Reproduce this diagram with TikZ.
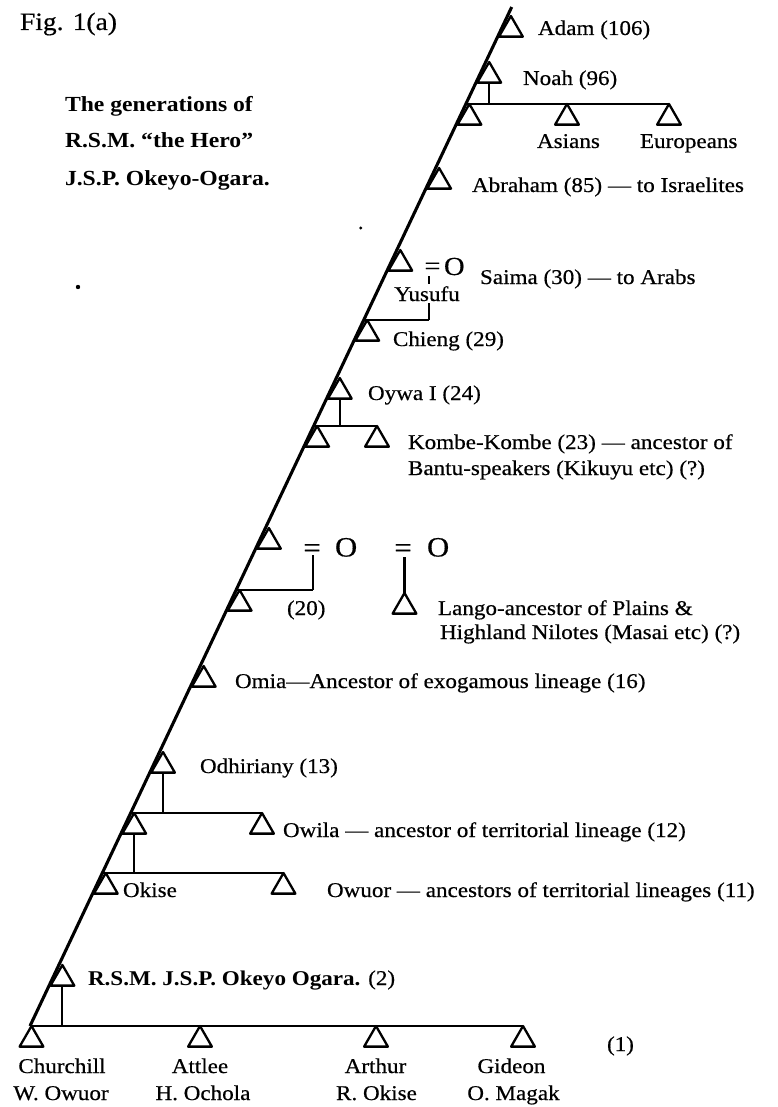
\documentclass[tikz,border=0pt]{standalone}
\usepackage{fontspec}
\setmainfont{Liberation Serif}[FakeStretch=1.1, UprightFeatures={FakeBold=0.5}]
\usetikzlibrary{shapes.geometric}
\begin{document}
\begin{tikzpicture}[x=1pt,y=-1pt,
  every node/.style={inner sep=0pt, outer sep=0pt},
  tri/.style={regular polygon, regular polygon sides=3, draw, line width=2.3pt,
    line join=round, minimum size=27.5pt, anchor=corner 1},
  lbl/.style={anchor=base west, font=\fontsize{21}{25}\selectfont},
  pname/.style={anchor=base, font=\fontsize{21}{25}\selectfont},
  ttl/.style={anchor=base west, font=\fontsize{21.5}{25}\selectfont\bfseries},
  trunk/.style={line width=3.1pt},
  hbar/.style={line width=2.7pt},
  vline/.style={line width=2.1pt},
  symS/.style={font=\fontsize{26}{28}\selectfont},
  symB/.style={font=\fontsize{28}{30}\selectfont},
]
\useasboundingbox (0,0) rectangle (778,1107);

% ---- titles
\node[anchor=base west, font=\fontsize{25}{28}\selectfont] (fig) at (20,30) {Fig. 1(a)};
\node[ttl] (t1) at (65,111.5) {The generations of};
\node[ttl] (t2) at (65,148) {R.S.M. “the Hero”};
\node[ttl] (t3) at (65,186) {J.S.P. Okeyo-Ogara.};
\fill (360.7,228) circle (1.7pt);
\fill (78,287) circle (2.2pt);

% ---- main line
\coordinate (top) at (511.7,7);
\coordinate (bot) at (30,1026);
\draw[trunk] (top) -- (bot);

% points on the main line
\coordinate (l104) at (465.9,104);
\coordinate (l320) at (363.7,320);
\coordinate (l426) at (313.6,426);
\coordinate (l590) at (236.1,590);
\coordinate (l813) at (130.7,813);
\coordinate (l873) at (102.3,873);

% ---- triangles
\node[tri] (adam) at (510.9,16) {};
\node[tri] (noah) at (489.2,62) {};
\node[tri] (ham) at (469.4,104) {};
\node[tri] (asians) at (567,104) {};
\node[tri] (europeans) at (669,104) {};
\node[tri] (abraham) at (439.1,168) {};
\node[tri] (yusufu) at (400.3,250) {};
\node[tri] (chieng) at (367.2,320) {};
\node[tri] (oywa) at (339.8,378) {};
\node[tri] (kson) at (317.1,426) {};
\node[tri] (kombe) at (377,426) {};
\node[tri] (ta) at (268.9,528) {};
\node[tri] (tb) at (239.6,590) {};
\node[tri] (lango) at (404.5,593) {};
\node[tri] (omia) at (203.7,666) {};
\node[tri] (odh) at (163,752) {};
\node[tri] (tc) at (134.2,813) {};
\node[tri] (owila) at (262,813) {};
\node[tri] (okise) at (105.8,873) {};
\node[tri] (owuor) at (283.5,873) {};
\node[tri] (rsm) at (62.4,965) {};
\node[tri] (churchill) at (31.5,1026) {};
\node[tri] (attlee) at (200,1026) {};
\node[tri] (arthur) at (376,1026) {};
\node[tri] (gideon) at (523,1026) {};

% ---- marriage symbols
\node[symS, anchor=base] (eqS) at (432.5,274.5) {=};
\node[symS, anchor=base west] (oS) at (444,275) {O};
\node[symB, anchor=base] (eqA) at (312,557) {=};
\node[symB, anchor=base west] (oA) at (335,556.5) {O};
\node[symB, anchor=base] (eqB) at (403,557) {=};
\node[symB, anchor=base west] (oB) at (427,556.5) {O};

% ---- connectors
\draw[hbar] (l104) -- (europeans.corner 1);
\draw[vline] (noah.side 2) -- (noah.side 2 |- l104);

\coordinate (ys) at (429,276);
\coordinate (yj) at (429,320);
\draw[vline] (ys) -- (yj);
\draw[hbar] (l320) -- (yj);

\draw[vline] (oywa.side 2) -- (oywa.side 2 |- l426);
\draw[hbar] (l426) -- (kombe.corner 1);

\coordinate (ja) at (313,555);
\coordinate (jb) at (313,590);
\draw[vline] (ja) -- (jb);
\draw[hbar] (l590) -- (jb);
\coordinate (lj) at (404.5,557);
\draw[vline] (lj) -- (lango.corner 1);

\draw[vline] (odh.side 2) -- (odh.side 2 |- l813);
\draw[hbar] (l813) -- (owila.corner 1);
\draw[vline] (tc.side 2) -- (tc.side 2 |- l873);
\draw[hbar] (l873) -- (owuor.corner 1);
\draw[vline] (rsm.side 2) -- (rsm.side 2 |- bot);
\draw[hbar] (bot) -- (gideon.corner 1);

% ---- labels
\node[lbl] (ladam) at (538,35) {Adam (106)};
\node[lbl] (lnoah) at (523,85) {Noah (96)};
\node[lbl] (lasians) at (537,148) {Asians};
\node[lbl] (leuro) at (640,148) {Europeans};
\node[lbl] (labr) at (472,192) {Abraham (85) — to Israelites};
\node[lbl] (lsaima) at (480,284) {Saima (30) — to Arabs};
\node[pname, fill=white, inner xsep=1pt, inner ysep=2pt] (lyus) at (427,301) {Yusufu};
\node[lbl] (lchieng) at (393,346) {Chieng (29)};
\node[lbl] (loywa) at (368,400) {Oywa I (24)};
\node[lbl] (lkombe1) at (408,449) {Kombe-Kombe (23) — ancestor of};
\node[lbl] (lkombe2) at (408,475) {Bantu-speakers (Kikuyu etc) (?)};
\node[lbl] (l20) at (287,615) {(20)};
\node[lbl] (llango1) at (438,615) {Lango-ancestor of Plains \&};
\node[lbl] (llango2) at (440,639) {Highland Nilotes (Masai etc) (?)};
\node[lbl] (lomia) at (235,688) {Omia—Ancestor of exogamous lineage (16)};
\node[lbl] (lodh) at (200,773) {Odhiriany (13)};
\node[lbl] (lowila) at (283,837) {Owila — ancestor of territorial lineage (12)};
\node[lbl] (lokise) at (123,897) {Okise};
\node[lbl] (lowuor) at (327,897) {Owuor — ancestors of territorial lineages (11)};
\node[lbl] (lrsm) at (88,985) {\textbf{R.S.M. J.S.P. Okeyo Ogara.} (2)};
\node[pname] (n1a) at (62,1073) {Churchill};
\node[pname] (n1b) at (61,1100) {W. Owuor};
\node[pname] (n2a) at (200,1073) {Attlee};
\node[pname] (n2b) at (203,1100) {H. Ochola};
\node[pname] (n3a) at (375.5,1073) {Arthur};
\node[pname] (n3b) at (376.5,1100) {R. Okise};
\node[pname] (n4a) at (511.5,1073) {Gideon};
\node[pname] (n4b) at (513.5,1100) {O. Magak};
\node[lbl] (lone) at (607,1051) {(1)};
\end{tikzpicture}
\end{document}
